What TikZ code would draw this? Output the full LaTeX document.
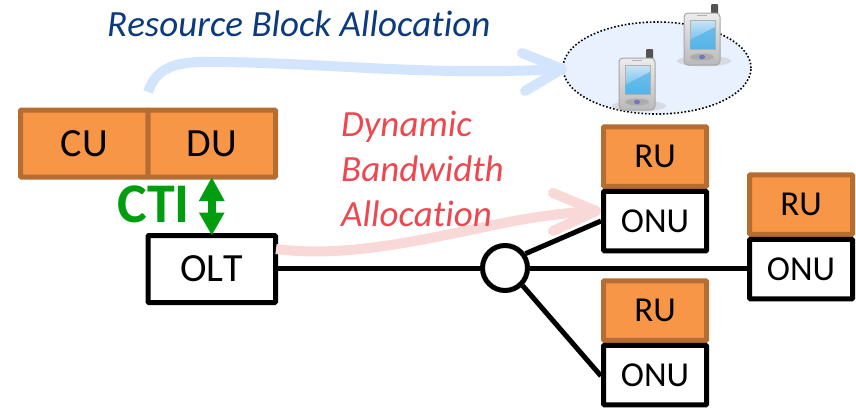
\documentclass[tikz,border=0pt]{standalone}
\usepackage{fontspec}
\setmainfont{Carlito}[Ligatures=NoCommon,Kerning=Off]
\usetikzlibrary{arrows.meta,shapes.geometric}
\definecolor{ruFill}{HTML}{F79646}
\definecolor{ruEdge}{HTML}{B66D31}
\definecolor{blueArrow}{HTML}{D3E5FC}
\definecolor{pinkArrow}{HTML}{F9D8D8}
\definecolor{cellFill}{HTML}{E8F1FD}
\definecolor{navyText}{HTML}{0B3A7E}
\definecolor{redText}{HTML}{EB4850}
\definecolor{ctiGreen}{HTML}{009E0F}
\definecolor{screenTop}{HTML}{C9E4F7}
\definecolor{screenLow}{HTML}{55B4E8}
\tikzset{
  orangebox/.style={draw=ruEdge,fill=ruFill,line width=5pt,rounded corners=0.8pt,inner sep=0pt,text=black},
  whitebox/.style={draw=black,fill=white,line width=5pt,rounded corners=0.8pt,inner sep=0pt,text=black},
  unitbox/.style={minimum width=103pt,minimum height=59.5pt,font=\fontsize{35}{35}\selectfont},
  topbox/.style={minimum width=127.5pt,minimum height=67pt,font=\fontsize{40}{40}\selectfont},
  fibre/.style={draw=black,line width=5pt},
  planarrow/.style={line width=10pt,line cap=round,line join=round},
  phone/.pic={
    \fill[gray!45,opacity=.5] (20,48) ellipse (27 and 5.5);
    \fill[rounded corners=1pt,gray!65!black] (27,-9) rectangle (34,2);
    \draw[line width=1pt,draw=gray!70,top color=gray!15,bottom color=gray!55,rounded corners=4pt] (0,0) rectangle (36,52);
    \fill[gray!60] (13,1.5) rectangle (23,3);
    \draw[line width=.8pt,draw=gray!60,top color=screenTop,bottom color=screenLow] (6,7) rectangle (31,36);
    \fill[screenLow,opacity=.75] (6,27) -- (31,14) -- (31,36) -- (6,36) -- cycle;
    \fill[gray!65] (18,44) ellipse (12 and 3.5);
    \fill[blue!35!gray!80] (18,44) ellipse (3 and 2.4);
  }
}
\begin{document}
\begin{tikzpicture}[x=1pt,y=-1pt]
\useasboundingbox (0,0) rectangle (856,407);

% wireless cell and handsets
\node[ellipse,draw=black,fill=cellFill,line width=1.6pt,dotted,minimum width=188pt,minimum height=92pt,inner sep=0pt] (cell) at (657,68) {};
\pic at (684,13) {phone};
\pic at (619,58) {phone};

% boxes
\node[orangebox,topbox] (cu) at (84.25,143.5) {CU};
\node[orangebox,topbox] (du) at (211.75,143.5) {DU};
\node[whitebox,topbox] (olt) at (211.75,269) {OLT};

\coordinate (rbStart) at (148,92);
\coordinate (rbTip) at (562,69);
\coordinate (dbStart) at (276,249);
\coordinate (dbTip) at (596,211);

% fibre
\node[circle,draw=black,fill=white,line width=5pt,minimum size=45pt,inner sep=0pt] (split) at (505,268) {};

\node[orangebox,unitbox] (ruA) at (655,156.5) {\raisebox{-4pt}{RU}};
\node[orangebox,unitbox] (ruB) at (801,204.5) {\raisebox{-4pt}{RU}};
\node[orangebox,unitbox] (ruC) at (655,310.5) {\raisebox{-4pt}{RU}};
\node[whitebox,unitbox] (onuA) at (655,221) {ONU};
\node[whitebox,unitbox] (onuB) at (801,269) {ONU};
\node[whitebox,unitbox] (onuC) at (655,375) {ONU};

\draw[fibre] (olt.east |- split) -- (split.west);
\draw[fibre] (split.east) -- (onuB.west |- split);
\draw[fibre] (split.35) -- (onuA.west);
\draw[fibre] (split.-45) -- ([yshift=-1pt]onuC.west);

% allocation arrows
\draw[planarrow,blueArrow,line cap=butt] (rbStart) .. controls (158,62) and (185,61) .. (225,62)
  .. controls (340,64) and (430,76) .. (rbTip);
\draw[planarrow,blueArrow] (522,53) -- (rbTip) -- (525,91);
\draw[planarrow,pinkArrow,line cap=butt] (dbStart) .. controls (345,258) and (420,240) .. (480,228)
  .. controls (525,218) and (560,213) .. (dbTip);
\draw[planarrow,pinkArrow] (553,193) -- (dbTip) -- (553,231);

% CTI
\draw[ctiGreen,line width=8pt,{Triangle[length=24pt,width=24pt]}-{Triangle[length=23pt,width=24pt]},shorten <=-2.5pt,shorten >=-2.5pt] (du.south) -- (olt.north);
\node[anchor=base east,inner sep=0pt,text=ctiGreen,font=\fontsize{56}{56}\selectfont\bfseries] (ctiLabel) at (190,222) {CTI};

% labels
\node[anchor=base west,inner sep=0pt,text=navyText,font=\fontsize{37}{37}\selectfont\itshape] (rbLabel) at (107,36) {Resource Block Allocation};
\node[anchor=base west,inner sep=0pt,text=redText,font=\fontsize{37}{37}\selectfont\itshape] (dynLabel) at (341,136) {Dynamic};
\node[anchor=base west,inner sep=0pt,text=redText,font=\fontsize{37}{37}\selectfont\itshape] (bwLabel) at (341,181) {Bandwidth};
\node[anchor=base west,inner sep=0pt,text=redText,font=\fontsize{37}{37}\selectfont\itshape] (alLabel) at (341,226) {Allocation};
\end{tikzpicture}
\end{document}
